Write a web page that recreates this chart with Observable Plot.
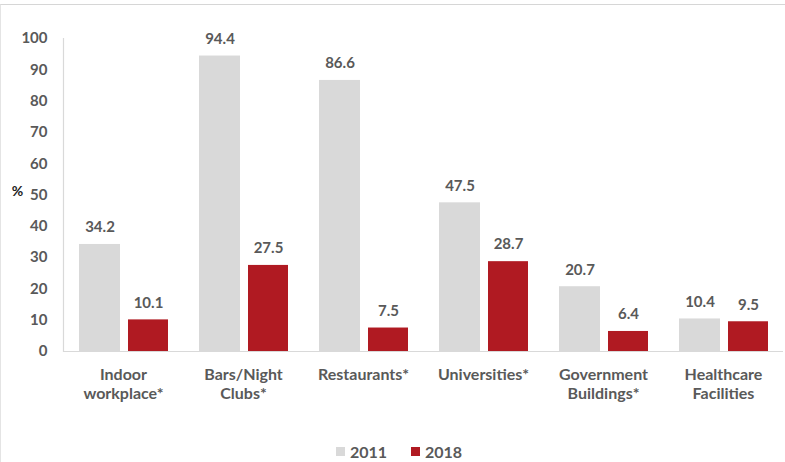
<!DOCTYPE html>
<html>
<head>
<meta charset="utf-8">
<script src="https://cdn.jsdelivr.net/npm/d3@7"></script>
<script src="https://cdn.jsdelivr.net/npm/@observablehq/plot@0.6"></script>
<style>
  html, body { margin: 0; padding: 0; background: #fff; }
  #wrap { width: 784px; height: 457px; margin-top: 4px; border-top: 1px solid #d6d6d6; border-left: 1px solid #e4e4e4; position: relative; font-family: Lato, "Open Sans", sans-serif; }
  #legend { position: absolute; left: 12px; right: 0; top: 437px; display: flex; justify-content: center; gap: 24px; font-weight: bold; font-size: 16px; color: #595959; }
  #legend span.item { display: flex; align-items: center; gap: 5px; }
  #legend span.sw { width: 9px; height: 9px; display: inline-block; }
</style>
</head>
<body>
<div id="wrap"><div id="chart"></div><div id="legend"></div></div>
<script>
const categories = ["Indoor workplace*", "Bars/Night Clubs*", "Restaurants*", "Universities*", "Government Buildings*", "Healthcare Facilities"];
const tickLabels = ["Indoor\nworkplace*", "Bars/Night\nClubs*", "Restaurants*", "Universities*", "Government\nBuildings*", "Healthcare\nFacilities"];
const values2011 = [34.2, 94.4, 86.6, 47.5, 20.7, 10.4];
const values2018 = [10.1, 27.5, 7.5, 28.7, 6.4, 9.5];
const years = ["2011", "2018"];
const colors = ["#d9d9d9", "#b01a22"];
const yTicks = [0, 10, 20, 30, 40, 50, 60, 70, 80, 90, 100];
const unitLabel = "%";
const unitLabelY = 51;

const rows2011 = categories.map((c, i) => ({category: c, year: years[0], value: values2011[i]}));
const rows2018 = categories.map((c, i) => ({category: c, year: years[1], value: values2018[i]}));
const labelMap = new Map(categories.map((c, i) => [c, tickLabels[i]]));
const textColor = "#595959";

const chart = Plot.plot({
  width: 784,
  height: 420,
  marginLeft: 62,
  marginRight: 2,
  marginTop: 33,
  marginBottom: 74,
  style: {fontFamily: "Lato, 'Open Sans', sans-serif", fontWeight: "bold", fontSize: "15px", color: textColor, background: "transparent"},
  x: {domain: categories, padding: 0, axis: null},
  y: {domain: [0, 100], axis: null},
  marks: [
    Plot.barY(rows2011, {x: "category", y: "value", fill: colors[0], insetLeft: 16, insetRight: 63}),
    Plot.barY(rows2018, {x: "category", y: "value", fill: colors[1], insetLeft: 65, insetRight: 15}),
    Plot.text(rows2011, {x: "category", y: "value", text: d => d.value.toFixed(1), dx: -23.5, dy: -17, fill: textColor, fontSize: 15, fontWeight: "bold"}),
    Plot.text(rows2018, {x: "category", y: "value", text: d => d.value.toFixed(1), dx: 25, dy: -17, fill: textColor, fontSize: 15, fontWeight: "bold"}),
    Plot.ruleY([0], {stroke: "#d9d9d9", strokeWidth: 1.2}),
    Plot.frame({anchor: "left", stroke: "#d9d9d9", strokeWidth: 1.2}),
    Plot.axisY(yTicks, {tickSize: 0, tickPadding: 16, fill: textColor, fontSize: 15, fontWeight: "bold", label: null}),
    Plot.axisX({tickSize: 0, tickPadding: 15, tickFormat: d => labelMap.get(d), fill: textColor, fontSize: 16, fontWeight: "bold", label: null, lineHeight: 1.2}),
    Plot.text([unitLabel], {y: () => unitLabelY, text: d => d, frameAnchor: "left", textAnchor: "middle", dx: -46, fill: "#222", fontSize: 14, fontWeight: "bold"})
  ]
});
document.getElementById("chart").appendChild(chart);

const legend = document.getElementById("legend");
years.forEach((y, i) => {
  const item = document.createElement("span");
  item.className = "item";
  const sw = document.createElement("span");
  sw.className = "sw";
  sw.style.background = colors[i];
  const t = document.createElement("span");
  t.textContent = y;
  item.appendChild(sw);
  item.appendChild(t);
  legend.appendChild(item);
});
</script>
</body>
</html>
